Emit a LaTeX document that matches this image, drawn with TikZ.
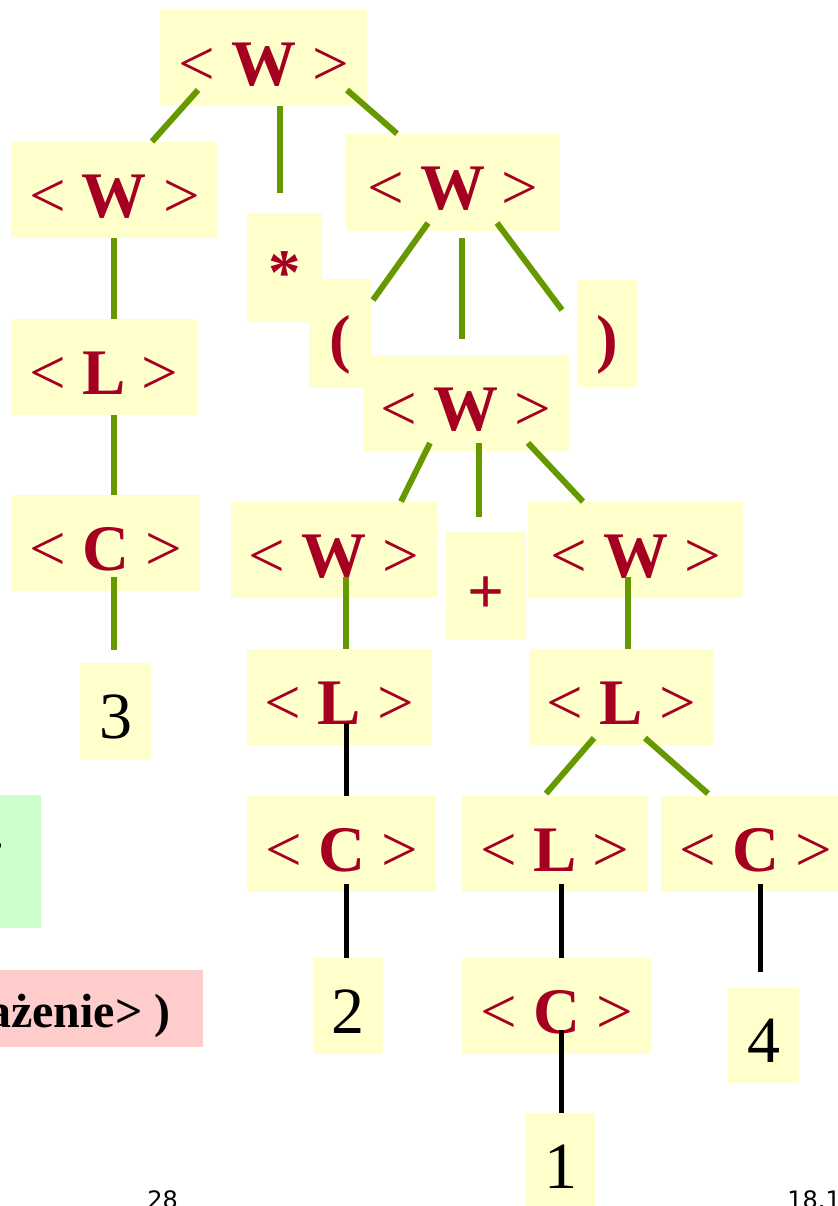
\documentclass[tikz,border=0pt]{standalone}
\usepackage{fontspec}
\setmainfont{Liberation Serif}
\newfontfamily\pagefont{DejaVu Sans}
\usetikzlibrary{positioning}

\definecolor{boxyellow}{HTML}{FFFFCC}
\definecolor{ntred}{HTML}{A50021}
\definecolor{edgegreen}{HTML}{669900}
\definecolor{rulepink}{HTML}{FFCCCC}
\definecolor{rulegreen}{HTML}{CCFFCC}

\newcommand{\nterm}[1]{<\ \textbf{#1}\ >}

\begin{document}
\begin{tikzpicture}[
    % GLOBAL CFG
    x=0.5pt, y=-0.5pt,
    % Styles
    sym/.style={% For the nonterminals
        fill=boxyellow,
        inner sep=0pt,
        text=ntred,
        font=\fontsize{32.5}{38}\selectfont,
        text height=27pt,
        text depth=0pt,
        },
    term/.style={% For the red terminals
        sym,
        font=\fontsize{32.5}{38}\selectfont\bfseries,
        },
    digit/.style={% For the leaves
        sym,
        text=black,
        font=\fontsize{33}{38}\selectfont,
        },
    sz/.style 2 args={% box size in pixels
        minimum width=#1*0.5pt,
        minimum height=#2*0.5pt,
        },
    gedge/.style={% green branches
        edgegreen,
        line width=3pt,
        },
    bedge/.style={% black branches
        black,
        line width=2.5pt,
        },
    pagenum/.style={
        anchor=base west,
        inner sep=0pt,
        font=\pagefont\fontsize{12}{14}\selectfont,
        },
    ]

\useasboundingbox (0,0) rectangle (838,1206);
\clip (0,0) rectangle (838,1206);

    % Rule boxes on the left
    \node[fill=rulegreen, inner sep=0pt, sz={120}{133}, anchor=north east] (alt) at (41,795) {};
    \node[anchor=east, inner sep=0pt, font=\fontsize{28}{32}\selectfont\bfseries] (altplus) at (5,849) {+};
    \node[fill=rulepink, anchor=east, minimum height=38.5pt, inner xsep=16pt, inner ysep=0pt,
          text height=19pt, text depth=0pt, font=\fontsize{24}{30}\selectfont\bfseries] (rule) at (203,1008.5) {( <wyrażenie> )};

    % Draw the tree
    \node[sym, sz={207}{96}] (top) at (263.5,58) {\nterm{W}};
    \node[sym, sz={207}{96}] (w1) at (114.5,190) {\nterm{W}};
    \node[term, sz={75}{109}] (star) at (284.5,267.5) {*};
    \node[sym, sz={214}{97}] (w2) at (453,182.5) {\nterm{W}};
    \node[sym, sz={186}{96}] (l1) at (104,367) {\nterm{L}};
    \node[sym, sz={189}{96}] (c1) at (105.5,543) {\nterm{C}};
    \node[digit, sz={71}{97}] (n3) at (115.5,711.5) {3};
    \node[term, sz={63}{109}] (lp) at (340.5,333.5) {(};
    \node[term, sz={60}{107}] (rp) at (607,333.5) {)};
    \node[sym, sz={206}{96}] (w3) at (466,403) {\nterm{W}};
    \node[sym, sz={206}{96}] (w4) at (334,550) {\nterm{W}};
    \node[term, sz={80}{108}] (plus) at (486,586) {+};
    \node[sym, sz={215}{96}] (w5) at (635.5,550) {\nterm{W}};
    \node[sym, sz={185}{96}] (l2) at (339.5,697) {\nterm{L}};
    \node[sym, sz={185}{96}] (l3) at (621.5,697) {\nterm{L}};
    \node[sym, sz={189}{96}] (c2) at (341.5,844) {\nterm{C}};
    \node[sym, sz={186}{96}] (l4) at (555,844) {\nterm{L}};
    \node[sym, sz={189}{96}] (c3) at (755.5,844) {\nterm{C}};
    \node[digit, sz={70}{96}] (n2) at (348,1006) {2};
    \node[sym, sz={189}{96}] (c4) at (556.5,1006) {\nterm{C}};
    \node[digit, sz={71}{95}] (n4) at (763.5,1035.5) {4};
    \node[digit, sz={69}{97}] (n1) at (560.5,1161.5) {1};

    % Page footer
    \node[pagenum] (page) at (147,1208) {28};
    \node[pagenum] (date) at (787,1208) {18.1};

    % Branches
    \draw [gedge] ([shift={(-65.5,32)}]top.center) -- ([shift={(37.5,0)}]w1.north);
    \draw [gedge] ([shift={(16.5,0)}]top.south) -- ([shift={(-4.5,-20)}]star.north);
    \draw [gedge] ([shift={(83.5,32)}]top.center) -- ([shift={(-56,0)}]w2.north);
    \draw [gedge] ([shift={(-0.5,0)}]w1.south) -- ([shift={(10,0)}]l1.north);
    \draw [gedge] ([shift={(10,0)}]l1.south) -- ([shift={(8.5,0)}]c1.north);
    \draw [gedge] ([shift={(8.5,34)}]c1.center) -- ([shift={(-1.5,-13)}]n3.north);
    \draw [gedge] ([shift={(-25,40.5)}]w2.center) -- ([shift={(32.5,-33.5)}]lp.center);
    \draw [gedge] ([shift={(9,55.5)}]w2.center) -- ([shift={(-4,-16)}]w3.north);
    \draw [gedge] ([shift={(44,40.5)}]w2.center) -- ([shift={(-45,-23.5)}]rp.center);
    \draw [gedge] ([shift={(-36,40)}]w3.center) -- ([shift={(67,0)}]w4.north);
    \draw [gedge] ([shift={(13,40)}]w3.center) -- ([shift={(-7,-15)}]plus.north);
    \draw [gedge] ([shift={(62,40)}]w3.center) -- ([shift={(-52.5,0)}]w5.north);
    \draw [gedge] ([shift={(12,27)}]w4.center) -- ([shift={(6.5,0)}]l2.north);
    \draw [gedge] ([shift={(-7.5,27)}]w5.center) -- ([shift={(6.5,0)}]l3.north);
    \draw [gedge] ([shift={(-27.5,41)}]l3.center) -- ([shift={(-9,-2)}]l4.north);
    \draw [gedge] ([shift={(23.5,41)}]l3.center) -- ([shift={(-47.5,-2)}]c3.north);
    \draw [bedge] ([shift={(6.5,26)}]l2.center) -- ([shift={(4.5,0)}]c2.north);
    \draw [bedge] ([shift={(4.5,40)}]c2.center) -- ([shift={(-2,0)}]n2.north);
    \draw [bedge] ([shift={(6,40)}]l4.center) -- ([shift={(4.5,0)}]c4.north);
    \draw [bedge] ([shift={(4.5,40)}]c3.center) -- ([shift={(-3.5,-16)}]n4.north);
    \draw [bedge] ([shift={(4.5,24)}]c4.center) -- ([shift={(0.5,0)}]n1.north);

\end{tikzpicture}
\end{document}
